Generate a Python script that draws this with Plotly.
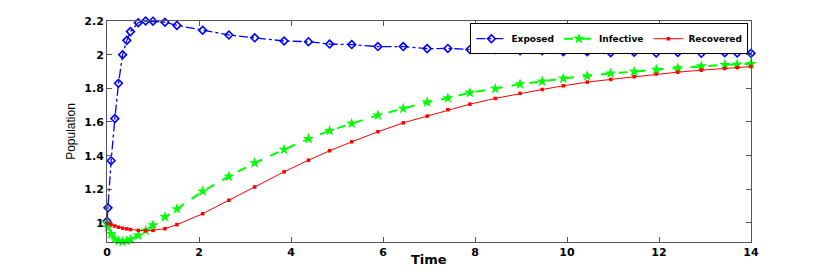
import plotly.graph_objects as go

time = [0, 0.02, 0.09, 0.17, 0.25, 0.34, 0.43, 0.51, 0.68, 0.84, 1.0, 1.26, 1.52,
        2.08, 2.65, 3.21, 3.85, 4.38, 4.84, 5.32, 5.89, 6.44, 6.96, 7.41, 7.89,
        8.44, 8.98, 9.46, 9.92, 10.44, 10.95, 11.46, 11.94, 12.41, 12.92, 13.43,
        13.70, 14.0]

exposed = [1.01, 1.09, 1.37, 1.62, 1.83, 2.0, 2.085, 2.137, 2.19, 2.2, 2.199,
           2.193, 2.174, 2.145, 2.117, 2.10, 2.081, 2.077, 2.063, 2.06, 2.048,
           2.048, 2.036, 2.037, 2.031, 2.031, 2.024, 2.024, 2.018, 2.018, 2.012,
           2.015, 2.01, 2.013, 2.008, 2.012, 2.01, 2.008]

infective = [1.0, 0.975, 0.935, 0.905, 0.893, 0.889, 0.893, 0.901, 0.926, 0.956,
             0.987, 1.036, 1.083, 1.188, 1.277, 1.357, 1.436, 1.500, 1.548, 1.591,
             1.640, 1.680, 1.718, 1.742, 1.774, 1.798, 1.825, 1.841, 1.859, 1.873,
             1.889, 1.899, 1.912, 1.920, 1.932, 1.940, 1.942, 1.946]

recovered = [1.0, 0.998, 0.99, 0.982, 0.975, 0.969, 0.965, 0.961, 0.956, 0.954,
             0.956, 0.966, 0.99, 1.055, 1.135, 1.214, 1.304, 1.373, 1.429, 1.482,
             1.542, 1.595, 1.635, 1.673, 1.706, 1.740, 1.770, 1.793, 1.815, 1.837,
             1.853, 1.869, 1.885, 1.896, 1.908, 1.918, 1.923, 1.929]

x_ticks = [0, 2, 4, 6, 8, 10, 12, 14]
y_ticks = [1, 1.2, 1.4, 1.6, 1.8, 2, 2.2]
y_tick_labels = ["1", "1.2", "1.4", "1.6", "1.8", "2", "2.2"]

fig = go.Figure()
fig.add_trace(go.Scatter(
    x=time, y=exposed, name="Exposed", mode="lines+markers", cliponaxis=False,
    line=dict(color="#0000ff", width=1.3, dash="dashdot"),
    marker=dict(symbol="diamond-open", size=6, color="#0000ff", line=dict(width=1.6, color="#0000ff"))))
fig.add_trace(go.Scatter(
    x=time, y=infective, name="Infective", mode="lines+markers", cliponaxis=False,
    line=dict(color="#00ff00", width=2, dash="dash"),
    marker=dict(symbol="star", size=8.5, color="#00ff00", line=dict(width=0))))
fig.add_trace(go.Scatter(
    x=time, y=recovered, name="Recovered", mode="lines+markers", cliponaxis=False,
    line=dict(color="#ff0000", width=1),
    marker=dict(symbol="square", size=3.5, color="#ff0000", line=dict(width=0))))

axis_common = dict(
    showline=True, linecolor="#555555", linewidth=1, mirror="ticks",
    ticks="inside", ticklen=5, tickcolor="#555555", showgrid=False, zeroline=False,
    automargin=False,
    tickfont=dict(family="DejaVu Sans", size=11, color="black", weight="bold"),
)

fig.update_layout(
    width=822, height=265,
    margin=dict(l=99, r=79, t=13, b=31),
    paper_bgcolor="white", plot_bgcolor="white",
    showlegend=True,
    legend=dict(
        x=0.996, y=0.99, xanchor="right", yanchor="top", orientation="h",
        bordercolor="black", borderwidth=1, bgcolor="white",
        font=dict(family="DejaVu Sans", size=9, color="black", weight="bold"),
        itemwidth=30, tracegroupgap=0,
    ),
    xaxis=dict(range=[0, 14], tickvals=x_ticks, ticktext=[str(v) for v in x_ticks],
               **axis_common),
    yaxis=dict(range=[0.887, 2.2], tickvals=y_ticks, ticktext=y_tick_labels,
               title=dict(text="Population", standoff=6,
                          font=dict(family="Liberation Sans", size=12, color="black")),
               **axis_common),
    annotations=[dict(text="Time", xref="paper", yref="paper", x=0.5, y=-0.077,
                      xanchor="center", yanchor="middle", showarrow=False,
                      font=dict(family="DejaVu Sans", size=13, color="black", weight="bold"))],
)

fig.write_html("out.html")
